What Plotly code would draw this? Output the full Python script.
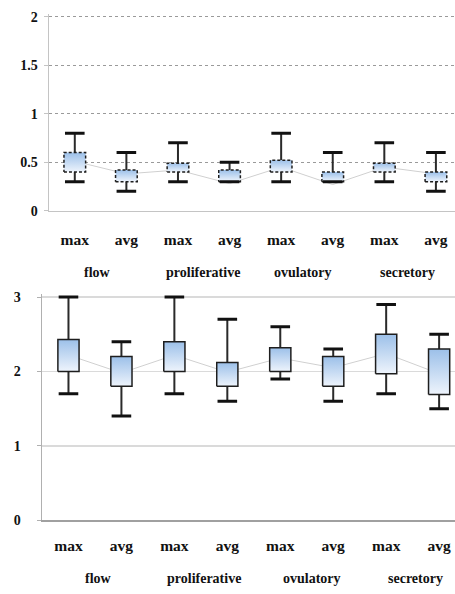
import plotly.graph_objects as go

# ---------------- data ----------------
categories = ["max", "avg", "max", "avg", "max", "avg", "max", "avg"]
phases = ["flow", "proliferative", "ovulatory", "secretory"]

top_low = [0.3, 0.2, 0.3, 0.3, 0.3, 0.3, 0.3, 0.2]
top_q1 = [0.40, 0.30, 0.40, 0.30, 0.40, 0.30, 0.40, 0.30]
top_q3 = [0.60, 0.42, 0.49, 0.42, 0.52, 0.40, 0.49, 0.40]
top_high = [0.8, 0.6, 0.7, 0.5, 0.8, 0.6, 0.7, 0.6]
top_mid = [0.51, 0.38, 0.42, 0.28, 0.45, 0.27, 0.45, 0.38]

bot_low = [1.7, 1.4, 1.7, 1.6, 1.9, 1.6, 1.7, 1.5]
bot_q1 = [2.0, 1.8, 2.0, 1.8, 2.0, 1.8, 1.97, 1.69]
bot_q3 = [2.43, 2.2, 2.4, 2.12, 2.32, 2.2, 2.5, 2.3]
bot_high = [3.0, 2.4, 3.0, 2.7, 2.6, 2.3, 2.9, 2.5]
bot_mid = [2.22, 1.98, 2.22, 1.99, 2.18, 2.05, 2.24, 1.97]

top_ticks = [0, 0.5, 1, 1.5, 2]
bot_ticks = [0, 1, 2, 3]

# ---------------- figure ----------------
W, H = 455, 594
FONT = "Liberation Serif"
fig = go.Figure()


def add_panel(xa, ya, low, q1, q3, high, mid, half_w, dash):
    pos = list(range(len(categories)))
    # connecting line
    fig.add_trace(go.Scatter(x=pos, y=mid, mode="lines", xaxis=xa, yaxis=ya,
                             line=dict(color="#d0d0d0", width=1),
                             hoverinfo="skip", showlegend=False))
    # whiskers
    wx, wy = [], []
    for i in pos:
        wx += [i, i, None, i, i, None]
        wy += [q3[i], high[i], None, q1[i], low[i], None]
    fig.add_trace(go.Scatter(x=wx, y=wy, mode="lines", xaxis=xa, yaxis=ya,
                             line=dict(color="#2a2a2a", width=2),
                             hoverinfo="skip", showlegend=False))
    # boxes with vertical gradient
    for i in pos:
        fig.add_trace(go.Scatter(
            x=[i - half_w, i + half_w, i + half_w, i - half_w, i - half_w],
            y=[q1[i], q1[i], q3[i], q3[i], q1[i]],
            mode="lines", fill="toself", xaxis=xa, yaxis=ya,
            fillgradient=dict(type="vertical",
                              colorscale=[[0, "#eef4fc"], [1, "#9cc0e9"]]),
            line=dict(color="#1e1e1e", width=1.5, dash=dash),
            hoverinfo="skip", showlegend=False))
    # caps
    fig.add_trace(go.Scatter(x=pos + pos, y=list(high) + list(low), mode="markers",
                             xaxis=xa, yaxis=ya,
                             marker=dict(symbol="line-ew", size=14,
                                         line=dict(color="#111111", width=3)),
                             hoverinfo="skip", showlegend=False))


add_panel("x", "y", top_low, top_q1, top_q3, top_high, top_mid, 0.21, "3px,2px")
add_panel("x2", "y2", bot_low, bot_q1, bot_q3, bot_high, bot_mid, 0.20, "solid")

tick_font = dict(family=FONT, size=14, color="#111111", weight="bold")
cat_font = dict(family=FONT, size=15.5, color="#111111", weight="bold")

fig.update_layout(
    width=W, height=H,
    margin=dict(l=0, r=0, t=0, b=0),
    paper_bgcolor="white", plot_bgcolor="white",
    showlegend=False,
    xaxis=dict(domain=[49 / W, 1], anchor="y", range=[-0.5, 7.37],
               tickmode="array", tickvals=list(range(8)), ticktext=categories,
               showgrid=False, zeroline=False, showline=True,
               linecolor="#c4c4c4", linewidth=1.5, ticks="",
               tickfont=cat_font, ticklabelstandoff=14, fixedrange=True),
    yaxis=dict(domain=[(H - 211) / H, (H - 10) / H], anchor="x", range=[0, 2.03],
               tickmode="array", tickvals=top_ticks,
               ticktext=[f"{v:g}" for v in top_ticks],
               showgrid=True, gridcolor="#9a9a9a", griddash="dot", gridwidth=1,
               zeroline=False, showline=True, linecolor="#c4c4c4", linewidth=1.5,
               ticks="outside", ticklen=4, tickcolor="#c4c4c4",
               tickfont=tick_font, ticklabelstandoff=3, fixedrange=True),
    xaxis2=dict(domain=[42 / W, 1], anchor="y2", range=[-0.5, 7.30],
                tickmode="array", tickvals=list(range(8)), ticktext=categories,
                showgrid=False, zeroline=False, showline=True,
                linecolor="#a0a0a0", linewidth=1.5, ticks="",
                tickfont=cat_font, ticklabelstandoff=11, fixedrange=True),
    yaxis2=dict(domain=[(H - 527) / H, (H - 296) / H], anchor="x2", range=[0, 3.04],
                tickmode="array", tickvals=bot_ticks,
                ticktext=[f"{v:g}" for v in bot_ticks],
                showgrid=True, gridcolor="#dadada", gridwidth=1.5,
                zeroline=False, showline=True, linecolor="#b0b0b0", linewidth=1.5,
                ticks="outside", ticklen=4, tickcolor="#b0b0b0",
                tickfont=tick_font, ticklabelstandoff=13, fixedrange=True),
)

top_shift = [-3, -1, -4, -3]
bot_shift = [4, 3, 5, 3]
for k, name in enumerate(phases):
    fig.add_annotation(text=name, x=2 * k + 0.5, xref="x", y=(H - 274) / H, yref="paper",
                       xshift=top_shift[k], yanchor="middle", showarrow=False,
                       font=dict(family=FONT, size=14, color="#111111", weight="bold"))
    fig.add_annotation(text=name, x=2 * k + 0.5, xref="x2", y=(H - 586) / H, yref="paper",
                       xshift=bot_shift[k], yanchor="middle", showarrow=False,
                       font=dict(family=FONT, size=14, color="#111111", weight="bold"))

fig.write_html("out.html",
               config={"displayModeBar": False, "staticPlot": True},
               post_script="document.body.style.margin='0';document.body.style.overflow='hidden';")
